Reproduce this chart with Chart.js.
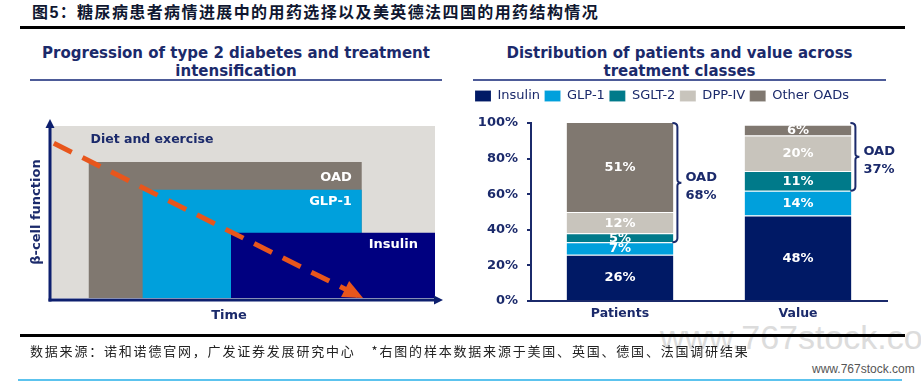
<!DOCTYPE html>
<html><head><meta charset="utf-8">
<script src="https://cdn.jsdelivr.net/npm/chart.js@4.4.0/dist/chart.umd.min.js"></script>
<style>
html,body{margin:0;padding:0;background:#fff;}
body{width:921px;height:381px;position:relative;overflow:hidden;font-family:"DejaVu Sans",sans-serif;}
.abs{position:absolute;}
#mainTitle{left:32px;top:2px;font-family:"Liberation Sans","Noto Sans CJK SC",sans-serif;font-weight:700;font-size:16px;letter-spacing:1.4px;line-height:22px;color:#0f1730;white-space:nowrap;}
.rule{background:#000;height:3px;}
.ptitle{font-weight:bold;font-size:15px;line-height:18px;color:#1b2a6b;text-align:center;top:44px;white-space:nowrap;}
.pline{background:#4d5b98;height:2px;top:79px;}
.axt{font-weight:bold;font-size:13px;color:#1b2a6b;line-height:16px;text-align:center;white-space:nowrap;}
#footer{left:30px;top:341px;font-family:"Noto Sans CJK SC",sans-serif;font-size:13px;letter-spacing:1.8px;color:#222;line-height:20px;white-space:nowrap;}
#wmBig{left:660px;top:317px;font-family:"Liberation Sans",sans-serif;font-size:34px;color:#dcdcdc;white-space:nowrap;line-height:40px;}
#wmSmall{left:812px;top:361px;font-family:"Liberation Sans",sans-serif;font-size:12px;color:#555;white-space:nowrap;line-height:16px;}
</style></head><body>
<div id="wmBig" class="abs">www.767stock.com</div>
<div id="mainTitle" class="abs">图5：糖尿病患者病情进展中的用药选择以及美英德法四国的用药结构情况</div>
<div class="abs rule" style="left:20px;top:26px;width:885px;"></div>
<div class="abs ptitle" style="left:30px;width:412px;">Progression of type 2 diabetes and treatment<br>intensification</div>
<div class="abs pline" style="left:30px;width:412px;"></div>
<div class="abs ptitle" style="left:473px;width:413px;">Distribution of patients and value across<br>treatment classes</div>
<div class="abs pline" style="left:473px;width:413px;"></div>
<div class="abs" style="left:0;top:100px;width:460px;height:235px;"><canvas id="left" width="460" height="235"></canvas></div>
<div class="abs" style="left:460px;top:85px;width:461px;height:250px;"><canvas id="right" width="461" height="250"></canvas></div>
<div class="abs axt" style="left:-34px;top:204px;width:140px;transform:rotate(-90deg);">β-cell function</div>
<div class="abs axt" style="left:189px;top:307px;width:80px;">Time</div>
<div class="abs rule" style="left:20px;top:334px;width:885px;"></div>
<div id="footer" class="abs">数据来源：诺和诺德官网，广发证券发展研究中心<span style="margin-left:16px;">*右图的样本数据来源于美国、英国、德国、法国调研结果</span></div>
<div id="wmSmall" class="abs">www.767stock.com</div>
<div class="abs" style="left:18px;top:379px;width:884px;height:2px;background:#5cc3ee;"></div>
<script>
// ---------- Left panel data ----------
const stageNames = ['Diet and exercise', 'OAD', 'GLP-1', 'Insulin'];
const stageStart = [0, 10, 24, 47];
const stageEnd   = [100, 81, 81, 100];
const stageLevel = [100, 79, 63, 38];
const betaCellTime  = [1, 81.3];
const betaCellLevel = [90, 0];

// ---------- Right panel data ----------
const categories = ['Patients', 'Value'];
const classes = ['Insulin', 'GLP-1', 'SGLT-2', 'DPP-IV', 'Other OADs'];
const insulin   = [26, 48];
const glp1      = [7, 14];
const sglt2     = [5, 11];
const dppiv     = [12, 20];
const otherOads = [51, 6];
const oadShare  = [68, 37];
const yTickLabels = ['0%', '20%', '40%', '60%', '80%', '100%'];

const NAVY = '#1b2a6b';
const FONT = '"DejaVu Sans", sans-serif';

// ---------- Left chart ----------
const leftColors = ['#dedcd8', '#807870', '#00a0dc', '#000080'];
const leftSets = stageNames.map((n, i) => ({
  label: n,
  data: [{x: stageStart[i], y: stageLevel[i]}, {x: stageEnd[i], y: stageLevel[i]}],
  fill: 'origin', backgroundColor: leftColors[i], borderColor: 'rgba(0,0,0,0)',
  borderWidth: 0, pointRadius: 0, order: 10 - i, tension: 0
}));
leftSets.push({
  label: 'β-cell function',
  data: betaCellTime.map((t, i) => ({x: t, y: betaCellLevel[i]})),
  borderColor: '#e8561c', borderWidth: 5, borderDash: [20, 12], borderCapStyle: 'butt',
  pointRadius: 0, fill: false, order: 0, tension: 0
});

const leftDecor = {
  id: 'leftDecor',
  afterDraw(chart) {
    const {ctx, chartArea: a, scales: {x, y}} = chart;
    ctx.save();
    ctx.textBaseline = 'middle';
    ctx.font = 'bold 12.5px ' + FONT;
    ctx.fillStyle = NAVY; ctx.textAlign = 'left';
    ctx.fillText(stageNames[0], x.getPixelForValue(stageStart[1]) + 2, a.top + 14);
    ctx.font = 'bold 13px ' + FONT;
    ctx.fillStyle = '#fff'; ctx.textAlign = 'right';
    ctx.fillText(stageNames[1], x.getPixelForValue(stageEnd[1]) - 10, y.getPixelForValue(stageLevel[1]) + 16);
    ctx.fillText(stageNames[2], x.getPixelForValue(stageEnd[2]) - 10, y.getPixelForValue(stageLevel[2]) + 12);
    ctx.fillText(stageNames[3], x.getPixelForValue(stageEnd[3]) - 17, y.getPixelForValue(stageLevel[3]) + 12);
    // axes with arrows
    ctx.strokeStyle = '#0d1f6e'; ctx.fillStyle = '#0d1f6e'; ctx.lineWidth = 3;
    const ax = a.left, ay = a.bottom + 2;
    ctx.beginPath(); ctx.moveTo(ax, ay + 1.5); ctx.lineTo(ax, a.top - 1); ctx.stroke();
    ctx.beginPath(); ctx.moveTo(ax, a.top - 7); ctx.lineTo(ax - 4.5, a.top + 2); ctx.lineTo(ax + 4.5, a.top + 2); ctx.closePath(); ctx.fill();
    ctx.beginPath(); ctx.moveTo(ax - 1.5, ay); ctx.lineTo(a.right + 2, ay); ctx.stroke();
    ctx.beginPath(); ctx.moveTo(a.right + 8, ay); ctx.lineTo(a.right - 1, ay - 4.5); ctx.lineTo(a.right - 1, ay + 4.5); ctx.closePath(); ctx.fill();
    // orange arrowhead
    const meta = chart.getDatasetMeta(leftSets.length - 1);
    const p0 = meta.data[0], p1 = meta.data[meta.data.length - 1];
    const ang = Math.atan2(p1.y - p0.y, p1.x - p0.x);
    const L = 20, W = 9;
    const bx = p1.x - L * Math.cos(ang), by = p1.y - L * Math.sin(ang);
    ctx.fillStyle = '#e8561c';
    ctx.beginPath();
    ctx.moveTo(p1.x, p1.y);
    ctx.lineTo(bx + W * Math.sin(ang), by - W * Math.cos(ang));
    ctx.lineTo(bx - W * Math.sin(ang), by + W * Math.cos(ang));
    ctx.closePath(); ctx.fill();
    ctx.restore();
  }
};

new Chart(document.getElementById('left'), {
  type: 'line',
  data: {datasets: leftSets},
  options: {
    responsive: false, animation: false, devicePixelRatio: 1, events: [],
    layout: {padding: {left: 50, top: 26, right: 25, bottom: 37}},
    plugins: {legend: {display: false}, tooltip: {enabled: false}},
    scales: {
      x: {type: 'linear', min: 0, max: 100, display: false},
      y: {type: 'linear', min: 0, max: 100, display: false}
    }
  },
  plugins: [leftDecor]
});

// ---------- Right chart ----------
const barColors = ['#001965', '#00a0dc', '#007a8a', '#c8c4bc', '#807870'];
const seriesValues = [insulin, glp1, sglt2, dppiv, otherOads];
const rightSets = classes.map((c, i) => ({
  label: c, data: seriesValues[i], backgroundColor: barColors[i],
  borderColor: 'rgba(255,255,255,0.6)', borderWidth: {top: 1, left: 0, right: 0, bottom: 0},
  barPercentage: 0.6, categoryPercentage: 1
}));

const legendGap = {
  id: 'legendGap',
  beforeInit(chart) {
    const orig = chart.legend.fit;
    chart.legend.fit = function () { orig.bind(chart.legend)(); this.height += 10.5; };
  }
};

const barDecor = {
  id: 'barDecor',
  afterDatasetsDraw(chart) {
    const {ctx, chartArea: a, scales: {y}} = chart;
    ctx.save();
    ctx.textAlign = 'center'; ctx.textBaseline = 'middle';
    ctx.font = 'bold 13px ' + FONT; ctx.fillStyle = '#fff';
    chart.data.datasets.forEach((ds, i) => {
      const meta = chart.getDatasetMeta(i);
      meta.data.forEach((bar, j) => {
        const top = Math.max(bar.y, a.top);
        ctx.fillText(ds.data[j] + '%', bar.x, (top + bar.base) / 2 + 0.5);
      });
    });
    // OAD brackets
    const meta0 = chart.getDatasetMeta(0);
    ctx.strokeStyle = NAVY; ctx.lineWidth = 2; ctx.fillStyle = NAVY;
    ctx.textAlign = 'left'; ctx.font = 'bold 13px ' + FONT;
    meta0.data.forEach((bar, j) => {
      const r = bar.x + bar.width / 2 + 4;
      const top = y.getPixelForValue(100);
      const bottom = y.getPixelForValue(insulin[j] + glp1[j]);
      const mid = (top + bottom) / 2;
      ctx.beginPath();
      ctx.moveTo(r - 5, top);
      ctx.quadraticCurveTo(r, top, r, top + 4);
      ctx.lineTo(r, mid - 3);
      ctx.quadraticCurveTo(r, mid, r + 4, mid);
      ctx.quadraticCurveTo(r, mid, r, mid + 3);
      ctx.lineTo(r, bottom - 4);
      ctx.quadraticCurveTo(r, bottom, r - 5, bottom);
      ctx.stroke();
      ctx.fillText('OAD', r + 8, mid - 5);
      ctx.fillText(oadShare[j] + '%', r + 8, mid + 13);
    });
    ctx.restore();
  }
};

new Chart(document.getElementById('right'), {
  type: 'bar',
  data: {labels: categories, datasets: rightSets},
  options: {
    responsive: false, animation: false, devicePixelRatio: 1, events: [],
    layout: {padding: {left: 10.5, top: 0, right: 34, bottom: 4}},
    plugins: {
      tooltip: {enabled: false},
      legend: {
        position: 'top', align: 'start',
        labels: {boxWidth: 16, boxHeight: 11, padding: 4.5, color: NAVY, font: {family: FONT, size: 13}}
      }
    },
    scales: {
      x: {
        stacked: true,
        grid: {display: false, drawTicks: false},
        border: {display: true, color: NAVY, width: 2},
        ticks: {color: NAVY, padding: 5, font: {family: FONT, size: 12.5, weight: 'bold'}},
        afterFit(s) { s.height = 30; }
      },
      y: {
        stacked: true, min: 0, max: 100,
        ticks: {stepSize: 20, padding: 9, color: NAVY, font: {family: FONT, size: 13, weight: 'bold'},
                callback: (v, i) => yTickLabels[i]},
        grid: {drawOnChartArea: false, drawTicks: true, tickLength: 4, color: NAVY, lineWidth: 2},
        border: {color: NAVY, width: 2},
        afterFit(s) { s.width = 60.5; }
      }
    }
  },
  plugins: [legendGap, barDecor]
});
</script>
</body></html>
